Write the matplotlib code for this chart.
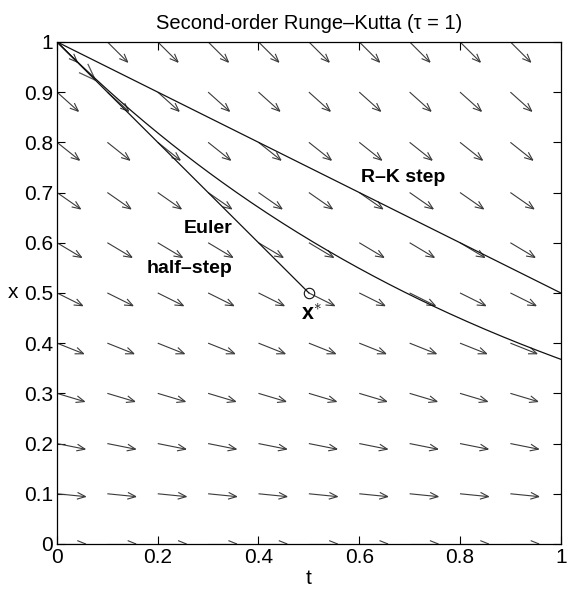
import numpy as np
import matplotlib
matplotlib.use("Agg")
import matplotlib.pyplot as plt
from matplotlib.collections import LineCollection

plt.rcParams['font.family'] = ['Liberation Sans', 'DejaVu Sans']
plt.rcParams['mathtext.fontset'] = 'custom'
plt.rcParams['mathtext.rm'] = 'Liberation Sans'
plt.rcParams['mathtext.bf'] = 'Liberation Sans:bold'

# Model dx/dt = -x / tau
tau = 1.0
step = 1.0
x0 = 1.0
t0 = 0.0

# Direction-field grid
t_grid = [0.0, 0.1, 0.2, 0.3, 0.4, 0.5, 0.6, 0.7, 0.8, 0.9, 1.0]
x_grid = [0.0, 0.1, 0.2, 0.3, 0.4, 0.5, 0.6, 0.7, 0.8, 0.9, 1.0]

x_ticks = [0, 0.2, 0.4, 0.6, 0.8, 1]
x_tick_labels = ['0', '0.2', '0.4', '0.6', '0.8', '1']
y_ticks = [0, 0.1, 0.2, 0.3, 0.4, 0.5, 0.6, 0.7, 0.8, 0.9, 1]
y_tick_labels = ['0', '0.1', '0.2', '0.3', '0.4', '0.5', '0.6', '0.7', '0.8', '0.9', '1']


def f(x):
    return -x / tau


# Second-order Runge-Kutta: Euler half-step to x*, then full step with slope at x*
t_half = t0 + step / 2
x_star = x0 + (step / 2) * f(x0)
t_full = t0 + step
x_rk = x0 + step * f(x_star)

fig = plt.figure(figsize=(5.67, 5.90), dpi=100)
ax = fig.add_axes([0.1005, 0.078, 0.8885, 0.851])
ax.set_xlim(0, 1)
ax.set_ylim(0, 1)


def arrow_segments(t, x, dt, dx, length, head, ang):
    n = np.hypot(dt, dx)
    ux, uy = dt / n, dx / n
    tip = (t + length * ux, x + length * uy)
    out = [[(t, x), tip]]
    back = np.arctan2(-uy, -ux)
    for s in (ang, -ang):
        a = back + s
        out.append([tip, (tip[0] + head * np.cos(a), tip[1] + head * np.sin(a))])
    return out


# Direction field arrows (unit-length, open V heads)
segs = []
for t in t_grid:
    for x in x_grid:
        segs += arrow_segments(t, x, 1.0, f(x), 0.057, 0.018, np.deg2rad(22))
ax.add_collection(LineCollection(segs, colors='#3a3a3a', linewidths=0.8, clip_on=True))

# Initial slope indicator at (t0, x0): head only, shaft lies on the Euler line
init = arrow_segments(t0, x0, 1.0, f(x0), 0.108, 0.036, np.deg2rad(20))
ax.add_collection(LineCollection(init[1:], colors='#555555', linewidths=0.9))

# Exact solution
tt = np.linspace(0, 1, 200)
ax.plot(tt, x0 * np.exp(-tt / tau), color='#111111', lw=0.9)
# Euler half-step
ax.plot([t0, t_half], [x0, x_star], color='#111111', lw=0.9)
ax.plot([t_half], [x_star], 'o', mfc='none', mec='#111111', ms=7.5, mew=0.8)
# R-K step
ax.plot([t0, t_full], [x0, x_rk], color='#111111', lw=0.9)

ax.text(0.687, 0.730, 'R\u2013K step', fontsize=14, fontweight='bold', ha='center', va='center')
ax.text(0.300, 0.629, 'Euler', fontsize=14, fontweight='bold', ha='center', va='center')
ax.text(0.2625, 0.548, 'half\u2013step', fontsize=14, fontweight='bold', ha='center', va='center')
ax.text(0.504, 0.458, r'$\mathbf{x}^{\ast}$', fontsize=15.5, ha='center', va='center')

ax.set_xticks(x_ticks)
ax.set_xticklabels(x_tick_labels)
ax.set_yticks(y_ticks)
ax.set_yticklabels(y_tick_labels)
ax.tick_params(direction='in', top=True, right=True, length=5.5, width=0.8, labelsize=15, pad=3)
for sp in ax.spines.values():
    sp.set_linewidth(0.9)

ax.set_xlabel('t', fontsize=15, labelpad=1)
ax.set_ylabel('x', fontsize=15, rotation=0, labelpad=8, va='center')
ax.set_title('Second-order Runge\u2013Kutta (\u03c4 = 1)', fontsize=14.5, pad=9)

fig.savefig('out.png', dpi=100)
